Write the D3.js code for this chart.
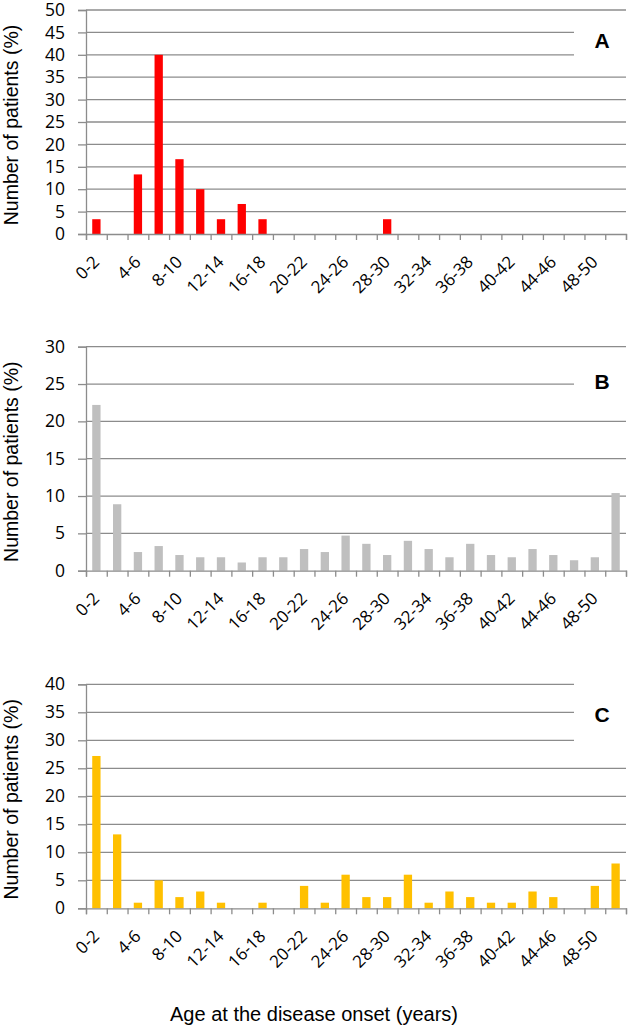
<!DOCTYPE html>
<html><head><meta charset="utf-8">
<script src="https://cdn.jsdelivr.net/npm/d3@7"></script>
<style>body{margin:0;background:#fff}svg{display:block}</style>
</head><body>
<svg id="chart" width="630" height="1031"></svg>
<script>
const categories = ["0-2","2-4","4-6","6-8","8-10","10-12","12-14","14-16","16-18","18-20","20-22","22-24","24-26","26-28","28-30","30-32","32-34","34-36","36-38","38-40","40-42","42-44","44-46","46-48","48-50",">50"];
const tickLabelCats = ["0-2","4-6","8-10","12-14","16-18","20-22","24-26","28-30","32-34","36-38","40-42","44-46","48-50"];
const valuesA = [3.3,0,13.3,40,16.7,10,3.3,6.7,3.3,0,0,0,0,0,3.3,0,0,0,0,0,0,0,0,0,0,0];
const valuesB = [22.2,8.9,2.5,3.3,2.1,1.8,1.8,1.1,1.8,1.8,2.9,2.5,4.7,3.6,2.1,4.0,2.9,1.8,3.6,2.1,1.8,2.9,2.1,1.4,1.8,10.4];
const valuesC = [27.2,13.2,1,5,2,3,1,0,1,0,4,1,6,2,2,6,1,3,2,1,1,3,2,0,4,8];
const yTicksA = [0,5,10,15,20,25,30,35,40,45,50];
const yTicksB = [0,5,10,15,20,25,30];
const yTicksC = [0,5,10,15,20,25,30,35,40];

const panels = [
  {values: valuesA, ticks: yTicksA, max: 50, top: 10, color: "#ff0000", label: "A", labelDy: 38, cut: [45,40]},
  {values: valuesB, ticks: yTicksB, max: 30, top: 346.7, color: "#bfbfbf", label: "B", labelDy: 42.5, cut: [25]},
  {values: valuesC, ticks: yTicksC, max: 40, top: 684.3, color: "#ffc000", label: "C", labelDy: 37.5, cut: [40,35,30]}
];
const svg = d3.select("#chart");
const left = 86, right = 626, ph = 224;
const gridColor = "#8c8c8c";

panels.forEach(p => {
  const bottom = p.top + ph;
  const x = d3.scaleBand().domain(categories).range([left, right]).paddingInner(0.6).paddingOuter(0.3);
  const xb = d3.scaleLinear().domain([0, categories.length]).range([left, right]);
  const y = d3.scaleLinear().domain([0, p.max]).range([bottom, p.top]);
  const g = svg.append("g");

  // gridlines
  g.append("g").selectAll("line").data(p.ticks.filter(t => t > 0)).join("line")
    .attr("x1", left).attr("x2", d => p.cut.includes(d) ? 574 : right)
    .attr("y1", d => y(d)).attr("y2", d => y(d))
    .attr("stroke", gridColor).attr("stroke-width", 1.3);

  // y axis
  const ya = g.append("g").attr("transform", `translate(${left},0)`)
    .call(d3.axisLeft(y).tickValues(p.ticks).tickSize(8).tickPadding(13));
  ya.select(".domain").attr("stroke", gridColor).attr("stroke-width", 1.3);
  ya.selectAll(".tick line").attr("stroke", gridColor).attr("stroke-width", 1.3);
  ya.selectAll("text").attr("font-family", "Open Sans, sans-serif").attr("font-size", 17.5).attr("fill", "#000");

  // bars
  g.append("g").selectAll("rect").data(p.values).join("rect")
    .attr("x", (d, i) => x(categories[i])).attr("width", x.bandwidth())
    .attr("y", d => y(d)).attr("height", d => bottom - y(d))
    .attr("fill", p.color);

  // x axis
  const xa = g.append("g").attr("transform", `translate(0,${bottom})`)
    .call(d3.axisBottom(xb).tickValues(d3.range(categories.length + 1)).tickSize(6).tickFormat(""));
  xa.select(".domain").attr("stroke", gridColor).attr("stroke-width", 1.3);
  xa.selectAll(".tick line").attr("stroke", gridColor).attr("stroke-width", 1.3);

  g.append("g").selectAll("text").data(tickLabelCats).join("text")
    .attr("transform", d => `translate(${x(d) + x.bandwidth()/2 + 4},${bottom + 29}) rotate(-45)`)
    .attr("text-anchor", "end")
    .attr("font-family", "Open Sans, sans-serif").attr("font-size", 17).attr("fill", "#000")
    .text(d => d);

  // y title
  g.append("text")
    .attr("transform", `translate(18,${p.top + ph/2 + 3}) rotate(-90)`)
    .attr("text-anchor", "middle")
    .attr("font-family", "Liberation Sans, Arial, sans-serif").attr("font-size", 19.5).attr("fill", "#000")
    .text("Number of patients (%)");

  // panel label
  g.append("text").attr("x", 602).attr("y", p.top + p.labelDy)
    .attr("text-anchor", "middle")
    .attr("font-family", "Liberation Sans, Arial, sans-serif").attr("font-weight", "bold").attr("font-size", 21).attr("fill", "#000")
    .text(p.label);
});

svg.append("text").attr("x", 314).attr("y", 1021).attr("text-anchor", "middle")
  .attr("font-family", "Liberation Sans, Arial, sans-serif").attr("font-size", 20).attr("fill", "#000")
  .text("Age at the disease onset (years)");
</script>
</body></html>
